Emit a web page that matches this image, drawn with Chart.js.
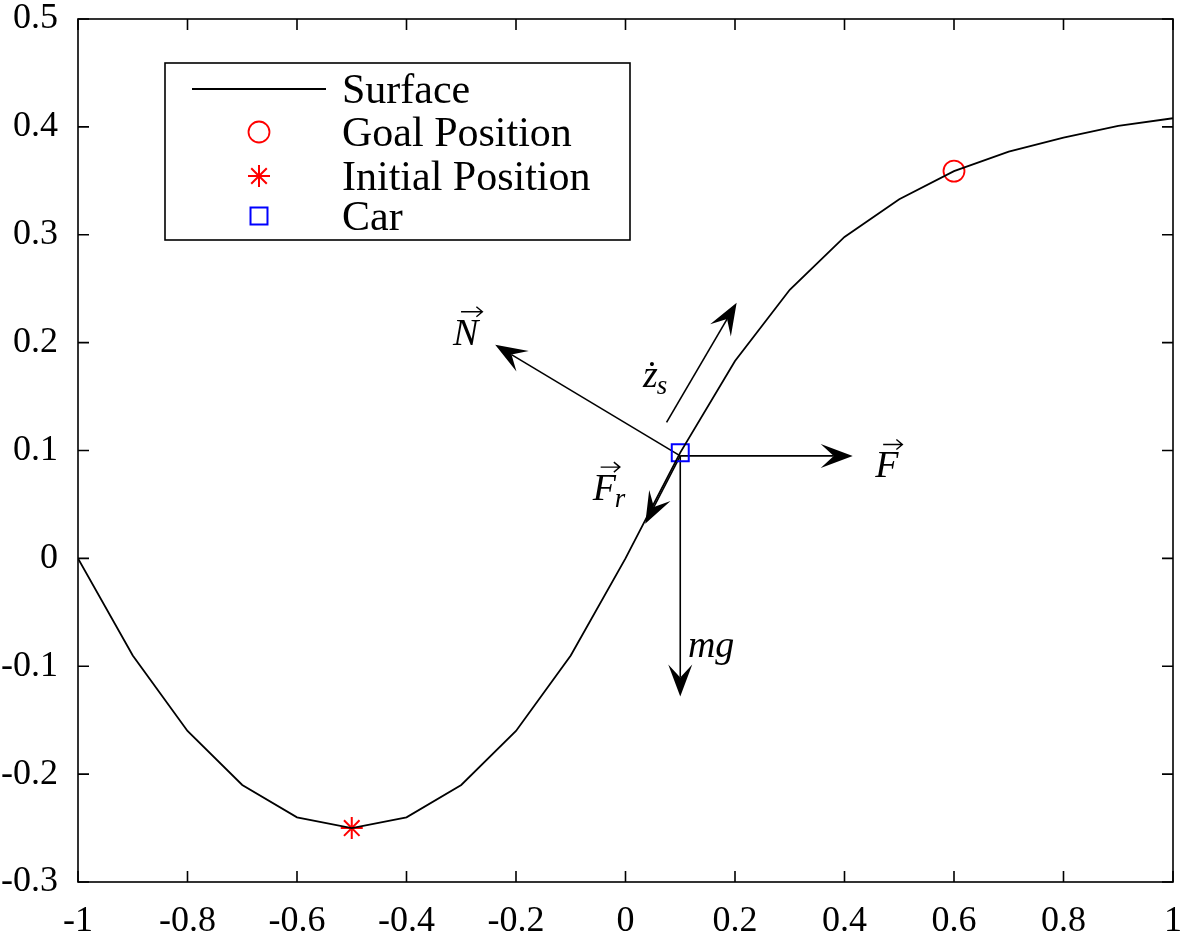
<!DOCTYPE html>
<html>
<head>
<meta charset="utf-8">
<script src="https://cdn.jsdelivr.net/npm/chart.js@4.4.1/dist/chart.umd.min.js"></script>
<style>
  body { margin: 0; background: #fff; }
</style>
</head>
<body>
<canvas id="chart" width="1194" height="934"></canvas>
<script>
// surface of the hill
const surfaceX = [-1, -0.9, -0.8, -0.7, -0.6, -0.5, -0.4, -0.3, -0.2, -0.1, 0,
                  0.1, 0.2, 0.3, 0.4, 0.5, 0.6, 0.7, 0.8, 0.9, 1];
const surfaceY = [0, -0.09, -0.16, -0.21, -0.24, -0.25, -0.24, -0.21, -0.16, -0.09, 0,
                  0.098, 0.183, 0.249, 0.298, 0.333, 0.359, 0.377, 0.390, 0.401, 0.408];

const goalPos = [0.6, 0.359];
const initialPos = [-0.5, -0.25];
const carPos = [0.1, 0.098];

// force vectors (data units): all start at the car
const forceOrigin = [0.1, 0.095];
const forceTips = [[-0.238, 0.198], [0.415, 0.095], [0.036, 0.032], [0.1, -0.128]];
// velocity arrow along the surface
const velocityFrom = [0.075, 0.126];
const velocityTo = [0.203, 0.237];

// math labels: main letter, subscript, vector arrow, anchor (left, baseline) in data units
const labelText = ['N', '\u017C', 'F', 'F', 'mg'];
const labelSub = ['', 's', '', 'r', ''];
const labelVec = [true, false, true, true, false];
const labelAt = [[-0.315, 0.198], [0.032, 0.159], [0.456, 0.075], [-0.06, 0.054], [0.114, -0.091]];

const xTicks = [-1, -0.8, -0.6, -0.4, -0.2, 0, 0.2, 0.4, 0.6, 0.8, 1];
const xTickLabels = ['-1', '-0.8', '-0.6', '-0.4', '-0.2', '0', '0.2', '0.4', '0.6', '0.8', '1'];
const yTicks = [-0.3, -0.2, -0.1, 0, 0.1, 0.2, 0.3, 0.4, 0.5];
const yTickLabels = ['-0.3', '-0.2', '-0.1', '0', '0.1', '0.2', '0.3', '0.4', '0.5'];

const serif = '"Liberation Serif", "Times New Roman", serif';

function drawArrow(ctx, x0, y0, x1, y1) {
    const len = Math.hypot(x1 - x0, y1 - y0);
    const ux = (x1 - x0) / len, uy = (y1 - y0) / len;
    const px = -uy, py = ux;
    const headLen = 32, notch = 19, half = 12;
    const bx = x1 - ux * headLen, by = y1 - uy * headLen;
    const nx = x1 - ux * notch, ny = y1 - uy * notch;
    ctx.beginPath();
    ctx.moveTo(x0, y0);
    ctx.lineTo(nx, ny);
    ctx.stroke();
    ctx.beginPath();
    ctx.moveTo(x1, y1);
    ctx.lineTo(bx + px * half, by + py * half);
    ctx.lineTo(nx, ny);
    ctx.lineTo(bx - px * half, by - py * half);
    ctx.closePath();
    ctx.fill();
}

// little \vec arrow over a letter
function drawVec(ctx, x0, x1, y) {
    ctx.save();
    ctx.lineWidth = 1.4;
    ctx.beginPath();
    ctx.moveTo(x0, y);
    ctx.lineTo(x1, y);
    ctx.moveTo(x1 - 6, y - 5);
    ctx.lineTo(x1, y);
    ctx.lineTo(x1 - 6, y + 5);
    ctx.stroke();
    ctx.restore();
}

const sketchPlugin = {
    id: 'sketch',
    beforeDatasetsDraw(chart) {
        const ctx = chart.ctx;
        const sx = chart.scales.x, sy = chart.scales.y;
        const ox = sx.getPixelForValue(forceOrigin[0]);
        const oy = sy.getPixelForValue(forceOrigin[1]);
        ctx.save();
        ctx.strokeStyle = '#000';
        ctx.fillStyle = '#000';
        ctx.lineWidth = 1.6;
        forceTips.forEach(function (t) {
            drawArrow(ctx, ox, oy, sx.getPixelForValue(t[0]), sy.getPixelForValue(t[1]));
        });
        drawArrow(ctx, sx.getPixelForValue(velocityFrom[0]), sy.getPixelForValue(velocityFrom[1]),
                  sx.getPixelForValue(velocityTo[0]), sy.getPixelForValue(velocityTo[1]));

        // labels
        ctx.textBaseline = 'alphabetic';
        ctx.textAlign = 'left';
        labelText.forEach(function (txt, i) {
            const x = sx.getPixelForValue(labelAt[i][0]);
            const y = sy.getPixelForValue(labelAt[i][1]);
            ctx.font = 'italic 38px ' + serif;
            const w = ctx.measureText(txt).width;
            ctx.fillText(txt, x, y);
            if (labelSub[i]) {
                ctx.font = 'italic 27px ' + serif;
                ctx.fillText(labelSub[i], x + w - 1, y + 7);
            }
            if (labelVec[i]) drawVec(ctx, x + 8, x + w + 4, y - 33);
        });
        ctx.restore();
    },
    afterDraw(chart) {
        const ctx = chart.ctx;
        const a = chart.chartArea;
        const sx = chart.scales.x, sy = chart.scales.y;
        ctx.save();
        ctx.strokeStyle = '#000';
        ctx.lineWidth = 1.6;
        ctx.strokeRect(a.left, a.top, a.right - a.left, a.bottom - a.top);
        // inward ticks on all four sides
        ctx.beginPath();
        xTicks.forEach(function (v) {
            const x = sx.getPixelForValue(v);
            ctx.moveTo(x, a.bottom); ctx.lineTo(x, a.bottom - 11);
            ctx.moveTo(x, a.top); ctx.lineTo(x, a.top + 11);
        });
        yTicks.forEach(function (v) {
            const y = sy.getPixelForValue(v);
            ctx.moveTo(a.left, y); ctx.lineTo(a.left + 11, y);
            ctx.moveTo(a.right, y); ctx.lineTo(a.right - 11, y);
        });
        ctx.stroke();

        // legend box
        ctx.fillStyle = '#fff';
        ctx.fillRect(165, 63, 465, 177);
        ctx.strokeRect(165, 63, 465, 177);
        const rows = [89, 132, 176, 216];
        chart.data.datasets.forEach(function (ds, i) {
            const y = rows[i];
            ctx.strokeStyle = ds.borderColor;
            ctx.lineWidth = ds.borderWidth;
            if (i === 0) {
                ctx.beginPath();
                ctx.moveTo(192, y); ctx.lineTo(326, y);
                ctx.stroke();
            } else {
                ctx.fillStyle = 'rgba(0,0,0,0)';
                Chart.helpers.drawPoint(ctx, {
                    pointStyle: ds.pointStyle, radius: ds.pointRadius,
                    borderWidth: ds.borderWidth, rotation: 0
                }, 259, y);
            }
            ctx.fillStyle = '#000';
            ctx.font = '42px ' + serif;
            ctx.textBaseline = 'alphabetic';
            ctx.fillText(ds.label, 342, y + 14);
        });
        ctx.restore();
    }
};

new Chart(document.getElementById('chart'), {
    type: 'scatter',
    data: {
        datasets: [
            {
                label: 'Surface',
                data: surfaceX.map((x, i) => ({ x: x, y: surfaceY[i] })),
                showLine: true, borderColor: '#000', borderWidth: 1.8,
                pointRadius: 0, fill: false, tension: 0
            },
            {
                label: 'Goal Position',
                data: [{ x: goalPos[0], y: goalPos[1] }],
                pointStyle: 'circle', pointRadius: 10.5, borderWidth: 1.8,
                borderColor: '#ff0000', backgroundColor: 'rgba(0,0,0,0)'
            },
            {
                label: 'Initial Position',
                data: [{ x: initialPos[0], y: initialPos[1] }],
                pointStyle: 'star', pointRadius: 11, borderWidth: 2,
                borderColor: '#ff0000', backgroundColor: 'rgba(0,0,0,0)'
            },
            {
                label: 'Car',
                data: [{ x: carPos[0], y: carPos[1] }],
                pointStyle: 'rect', pointRadius: 12, borderWidth: 2,
                borderColor: '#0000ff', backgroundColor: 'rgba(0,0,0,0)'
            }
        ]
    },
    options: {
        responsive: false,
        animation: false,
        devicePixelRatio: 1,
        layout: { padding: { top: 19, right: 21, left: 0, bottom: 0 } },
        plugins: { legend: { display: false }, tooltip: { enabled: false } },
        scales: {
            x: {
                type: 'linear', min: -1, max: 1,
                grid: { display: false }, border: { display: false },
                afterBuildTicks: function (s) { s.ticks = xTicks.map(v => ({ value: v })); },
                afterFit: function (s) { s.height = 52; s.paddingLeft = 0; s.paddingRight = 0; },
                ticks: {
                    font: { family: serif, size: 36 }, color: '#000', padding: 10,
                    maxRotation: 0, autoSkip: false,
                    callback: function (v, i) { return xTickLabels[i]; }
                }
            },
            y: {
                type: 'linear', min: -0.3, max: 0.5,
                grid: { display: false }, border: { display: false },
                afterBuildTicks: function (s) { s.ticks = yTicks.map(v => ({ value: v })); },
                afterFit: function (s) { s.width = 78; s.paddingTop = 0; s.paddingBottom = 0; },
                ticks: {
                    font: { family: serif, size: 36 }, color: '#000', padding: 12,
                    autoSkip: false,
                    callback: function (v, i) { return yTickLabels[i]; }
                }
            }
        }
    },
    plugins: [sketchPlugin]
});
</script>
</body>
</html>
